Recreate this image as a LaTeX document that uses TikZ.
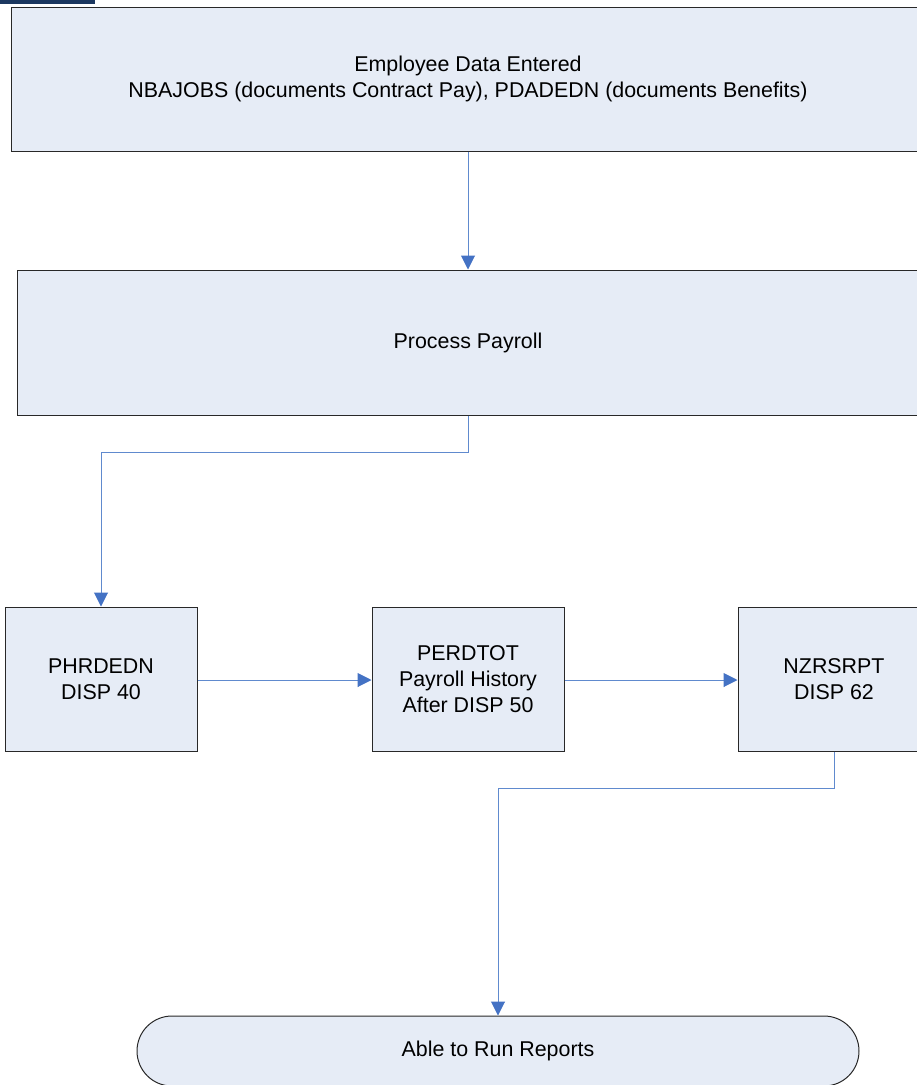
\documentclass[tikz,border=0pt]{standalone}
\usepackage{fontspec}
\setmainfont{Liberation Sans}
\usetikzlibrary{arrows.meta}
\definecolor{boxfill}{RGB}{230,236,246}
\definecolor{boxline}{RGB}{40,40,40}
\definecolor{conn}{RGB}{96,138,206}
\definecolor{tipc}{RGB}{68,114,196}
\definecolor{navy}{RGB}{28,56,96}
\tikzset{
  box/.style={draw=boxline, fill=boxfill, line width=1pt, inner sep=0pt, align=center,
    font=\fontsize{21.4}{26}\selectfont},
  term/.style={box, rounded corners=35pt},
  conn/.style={draw=conn, line width=1pt, -{Triangle[length=14pt,width=14pt,color=tipc]}},
}
\begin{document}
\begin{tikzpicture}[x=1pt,y=-1pt]
\useasboundingbox (0,0) rectangle (917,1085);
\clip (0,0) rectangle (917,1085);
\fill[navy] (0,0) rectangle (95,3.5);
\node[box, minimum width=914pt, minimum height=144pt] (emp) at (468,79)
  {\raisebox{-2pt}{\begin{tabular}{@{}c@{}}Employee Data Entered\\NBAJOBS (documents Contract Pay), PDADEDN (documents Benefits)\end{tabular}}};
\node[box, minimum width=902pt, minimum height=145pt] (proc) at (468,342.5) {\raisebox{-2pt}{Process Payroll}};
\node[box, minimum width=192pt, minimum height=144pt] (phr) at (101,679) {PHRDEDN\\DISP 40};
\node[box, minimum width=192pt, minimum height=144pt] (per) at (468,679) {PERDTOT\\Payroll History\\After DISP 50};
\node[box, minimum width=192pt, minimum height=144pt] (nzr) at (834,679) {NZRSRPT\\DISP 62};
\node[term, minimum width=722pt, minimum height=70pt] (rep) at (498,1051) {\raisebox{-2pt}{Able to Run Reports}};
\coordinate (b1) at (468,452);
\coordinate (b2) at (834,788);
\draw[conn] (emp.south) -- (proc.north);
\draw[conn] (proc.south) -- (b1) -| (phr.north);
\draw[conn] (phr.east |- 0,680) -- (per.west |- 0,680);
\draw[conn] (per.east |- 0,680) -- (nzr.west |- 0,680);
\draw[conn] (nzr.south) -- (b2) -| (rep.north);
\end{tikzpicture}
\end{document}
